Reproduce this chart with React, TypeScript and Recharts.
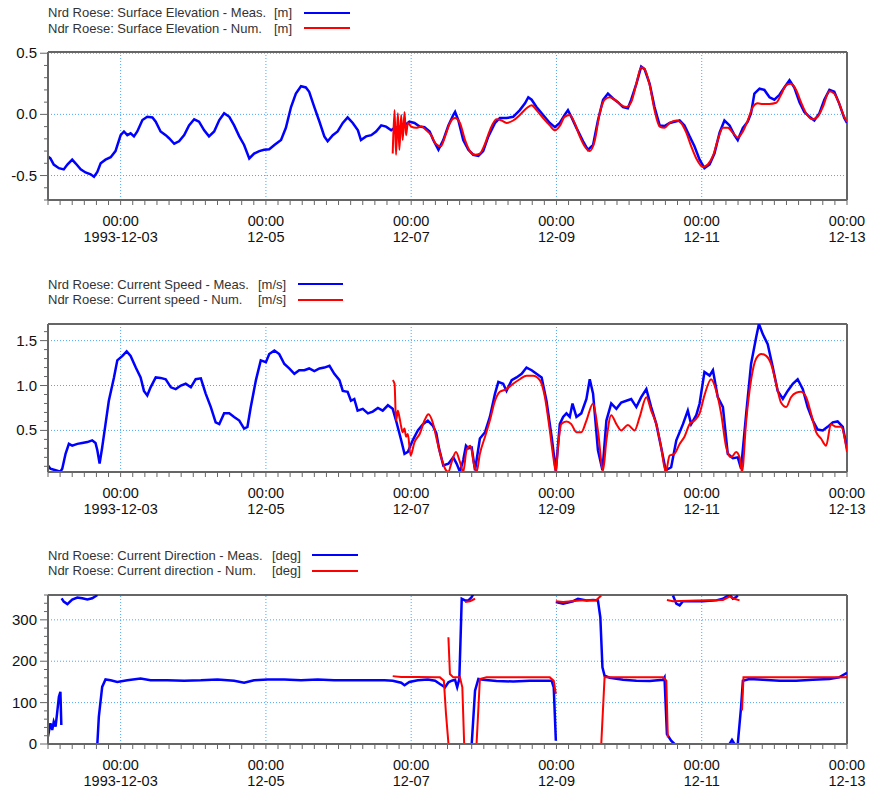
import React from 'react';
import { LineChart, Line, XAxis, YAxis, ReferenceLine } from 'recharts';

// time axis: hours after 1993-12-02 00:00
type Pt = [number, number];

const FONT = "'Liberation Sans', Arial, sans-serif";
const BLUE = '#0000ff';
const RED = '#ff0000';
const GRID = '#4da6ff';
const FRAME = '#666666';

const dayTicks = [24, 72, 120, 168, 216, 264];
const dayLabels = ['1993-12-03', '12-05', '12-07', '12-09', '12-11', '12-13'];
const hourTicks: number[] = [];
for (let h = 0; h <= 264; h += 4) hourTicks.push(h);

// --- surface elevation [m]
const elevMeas: Pt[] = [
  [0, -0.345], [0.8, -0.36], [1.9, -0.41], [3.6, -0.44], [5.2, -0.45], [6.4, -0.41], [8, -0.37], [9.1, -0.4],
  [10.8, -0.45], [12.4, -0.475], [14.1, -0.49], [15.2, -0.51], [16.3, -0.47], [17.4, -0.4], [19, -0.37], [20.7, -0.35],
  [22.3, -0.3], [24, -0.17], [25.1, -0.14], [26.2, -0.17], [27.3, -0.155], [28.4, -0.18], [29.5, -0.14], [31.2, -0.046],
  [32.8, -0.02], [34.5, -0.025], [35.6, -0.06], [37.2, -0.14], [38.9, -0.17], [40, -0.195], [41.7, -0.24], [43.3, -0.22],
  [45, -0.17], [46.6, -0.09], [48.3, -0.04], [49.9, -0.06], [51.6, -0.13], [53.2, -0.18], [54.9, -0.14], [56.6, -0.046],
  [58.2, 0.01], [59.9, -0.02], [61.5, -0.09], [63.2, -0.18], [64.8, -0.25], [66.5, -0.36], [68.1, -0.32], [69.8, -0.3],
  [71.4, -0.29], [73.1, -0.285], [74.8, -0.25], [77, -0.21], [78.6, -0.11], [80.3, 0.06], [81.9, 0.17], [83.6, 0.23],
  [85.2, 0.22], [86.3, 0.185], [88, 0.06], [89.7, -0.06], [91.3, -0.18], [92.4, -0.22], [94.1, -0.17], [95.7, -0.14],
  [97.4, -0.07], [99, -0.025], [100.7, -0.07], [102.4, -0.13], [103.4, -0.21], [105.1, -0.18], [106.8, -0.17], [108.4, -0.14],
  [110.1, -0.09], [111.7, -0.1], [113.4, -0.13], [114.5, -0.11], [116.1, -0.1], [117.8, -0.09], [119.4, -0.06], [121.1, -0.07],
  [122.8, -0.1], [124.4, -0.105], [126.1, -0.14], [127.3, -0.21], [129, -0.29], [130.6, -0.21], [132.3, -0.09], [133.9, -0.005],
  [134.5, 0.02], [135.6, -0.05], [137.2, -0.21], [138.9, -0.29], [140.5, -0.33], [142.2, -0.34], [143.8, -0.3], [145.5, -0.18],
  [147.7, -0.07], [149.3, -0.03], [151.5, -0.03], [153.7, -0.02], [155.9, 0.035], [157.6, 0.09], [158.7, 0.14], [159.8, 0.12],
  [161.4, 0.06], [163.6, -0.005], [165.8, -0.07], [167.5, -0.105], [169.1, -0.07], [170.7, -0.005], [171.8, 0.035], [172.9, -0.02],
  [174.6, -0.11], [176.8, -0.22], [178.4, -0.29], [180.1, -0.25], [181.7, -0.05], [183.4, 0.12], [185, 0.17], [186.7, 0.13],
  [188.3, 0.1], [190, 0.06], [191.6, 0.05], [192.7, 0.12], [194.4, 0.25], [196, 0.39], [197.1, 0.37], [198.8, 0.25],
  [200.4, 0.06], [202.1, -0.09], [203.7, -0.095], [205.4, -0.07], [207, -0.06], [208.7, -0.05], [210.3, -0.09], [212, -0.18],
  [213.6, -0.26], [215.3, -0.37], [216.9, -0.44], [218.6, -0.41], [220.2, -0.32], [221.9, -0.15], [223.5, -0.05], [225.2, -0.09],
  [226.8, -0.17], [227.9, -0.21], [229.6, -0.11], [231.2, -0.06], [232.3, 0.01], [233.4, 0.17], [235.1, 0.21], [236.7, 0.2],
  [238.4, 0.14], [240, 0.12], [241.7, 0.16], [243.3, 0.22], [245, 0.28], [246.6, 0.22], [248.3, 0.1], [249.9, 0.02],
  [251.6, -0.02], [253.2, -0.05], [254.9, 0.01], [256.5, 0.12], [258.2, 0.2], [259.8, 0.185], [261.4, 0.09], [263.1, -0.03],
  [264, -0.07],
];

const elevNum: Pt[] = [
  [113.9, -0.32], [114.5, 0.035], [115, -0.33], [115.6, 0.01], [116.1, -0.29], [116.7, -0.005], [117.2, -0.21], [117.8, 0.02],
  [118.3, -0.17], [118.9, -0.07], [120, -0.1], [121.6, -0.11], [123.3, -0.1], [125, -0.13], [126.6, -0.17], [128.1, -0.24],
  [129.8, -0.26], [131.2, -0.18], [132.8, -0.07], [134.5, -0.03], [136.1, -0.07], [137.8, -0.21], [139.4, -0.3], [141.1, -0.33],
  [142.7, -0.32], [144.4, -0.24], [146, -0.13], [148.2, -0.04], [149.9, -0.05], [151.5, -0.07], [153.7, -0.05], [155.9, -0.005],
  [158.1, 0.05], [159.8, 0.075], [161.4, 0.035], [163.6, -0.03], [165.8, -0.09], [167.5, -0.13], [169.1, -0.095], [170.7, -0.02],
  [172.4, -0.005], [174, -0.07], [175.7, -0.18], [177.3, -0.26], [179, -0.3], [180.6, -0.22], [182.3, 0.01], [183.9, 0.12],
  [185.6, 0.14], [187.2, 0.12], [188.9, 0.085], [191.1, 0.06], [192.7, 0.1], [194.4, 0.25], [196, 0.385], [197.1, 0.37],
  [198.8, 0.24], [200.4, 0.035], [202.1, -0.1], [203.7, -0.11], [205.4, -0.07], [207.6, -0.05], [209.2, -0.07], [210.9, -0.15],
  [212.5, -0.26], [214.2, -0.36], [216.4, -0.43], [218, -0.41], [219.7, -0.34], [221.3, -0.21], [223, -0.11], [224.6, -0.11],
  [226.3, -0.15], [227.9, -0.19], [229.6, -0.14], [231.2, -0.05], [232.9, 0.06], [234.5, 0.09], [236.2, 0.085], [238.4, 0.085],
  [240.6, 0.095], [242.2, 0.16], [243.9, 0.24], [245.5, 0.25], [247.2, 0.2], [248.8, 0.1], [250.5, 0.01], [252.7, -0.04],
  [254.3, -0.02], [256, 0.06], [258.2, 0.19], [259.8, 0.17], [261.4, 0.09], [263.1, -0.02], [264, -0.06],
];

// --- current speed [m/s]
const speedMeas: Pt[] = [
  [0, 0.11], [0.8, 0.074], [2.5, 0.056], [4.1, 0.04], [4.7, 0.074], [5.8, 0.24], [6.9, 0.35], [8, 0.33],
  [9.7, 0.35], [11.3, 0.36], [13, 0.37], [14.6, 0.39], [15.7, 0.36], [16.3, 0.28], [17.05, 0.13], [17.9, 0.31],
  [19, 0.57], [20.1, 0.83], [21.8, 1.09], [22.9, 1.28], [24.6, 1.33], [26, 1.38], [27.3, 1.33], [29, 1.2],
  [30.6, 1.09], [31.7, 0.94], [32.8, 0.89], [33.9, 0.98], [35.6, 1.09], [37.2, 1.085], [38.9, 1.07], [40.6, 0.98],
  [42.2, 0.96], [43.9, 1.0], [45.5, 1.02], [47.2, 0.98], [48.8, 1.07], [50.5, 1.08], [52.1, 0.91], [53.8, 0.76],
  [55.4, 0.59], [56.6, 0.57], [58.2, 0.69], [59.9, 0.69], [61.5, 0.65], [63.2, 0.61], [64.8, 0.52], [65.9, 0.54],
  [67, 0.76], [68.7, 1.06], [70.3, 1.28], [72, 1.26], [73.1, 1.35], [74.8, 1.39], [76.4, 1.35], [78.1, 1.24],
  [79.7, 1.19], [81.4, 1.13], [83, 1.17], [84.7, 1.17], [86.3, 1.19], [88, 1.16], [89.7, 1.19], [91.3, 1.2],
  [93, 1.22], [94.6, 1.13], [96.3, 1.06], [97.4, 0.94], [99, 0.93], [100.1, 0.83], [101.2, 0.85], [102.3, 0.72],
  [104, 0.74], [105.7, 0.69], [107.3, 0.71], [109, 0.75], [110.6, 0.72], [112.3, 0.78], [113.9, 0.74], [115, 0.61],
  [116.7, 0.39], [117.8, 0.24], [118.9, 0.26], [120.5, 0.39], [122.2, 0.5], [123.9, 0.57], [125.5, 0.61], [127.2, 0.55],
  [128.3, 0.47], [129.2, 0.3], [130.6, 0.11], [132.3, 0.13], [133.9, 0.2], [135, 0.13], [136.1, 0.04], [137.2, 0.17],
  [138.1, 0.33], [138.9, 0.3], [140, 0.31], [141.1, 0.056], [142.7, 0.41], [144.4, 0.48], [146, 0.65], [147.7, 0.91],
  [148.8, 1.04], [150.4, 1.02], [151.5, 0.94], [153.2, 1.06], [154.8, 1.09], [156.5, 1.13], [158.1, 1.2], [159.8, 1.17],
  [161.4, 1.13], [163.1, 1.09], [164.7, 0.83], [166.4, 0.43], [167.8, 0.05], [169.1, 0.57], [170.2, 0.65], [171.3, 0.69],
  [172.4, 0.65], [173.3, 0.8], [174.6, 0.65], [176.2, 0.69], [177.9, 0.85], [179, 1.07], [180.1, 0.91], [181.7, 0.28],
  [183.2, 0.056], [184.5, 0.61], [186.1, 0.8], [187.8, 0.74], [189.4, 0.81], [191.1, 0.83], [192.7, 0.85], [194.4, 0.76],
  [196, 0.87], [197.7, 0.96], [199.3, 0.76], [201, 0.57], [202.6, 0.31], [204.1, 0.056], [205.9, 0.09], [207.6, 0.39],
  [209.8, 0.57], [211.4, 0.72], [212.5, 0.57], [214.2, 0.67], [215.3, 0.8], [216.9, 1.15], [218.6, 1.11], [219.7, 1.17],
  [221.3, 0.87], [223, 0.76], [224.6, 0.24], [226.3, 0.19], [227.9, 0.2], [229, 0.074], [230.7, 0.69], [232.3, 1.24],
  [234, 1.54], [234.9, 1.685], [236.2, 1.57], [237.8, 1.46], [239.5, 1.2], [241.1, 0.94], [242.8, 0.85], [244.4, 0.94],
  [246.1, 1.02], [247.7, 1.07], [249.4, 0.96], [251, 0.76], [252.7, 0.61], [254.3, 0.51], [256, 0.5], [257.6, 0.54],
  [259.3, 0.59], [260.9, 0.6], [262.6, 0.54], [264, 0.3],
];

const speedNum: Pt[] = [
  [113.9, 1.06], [114.5, 1.02], [115, 0.61], [115.6, 0.72], [116.1, 0.65], [116.7, 0.54], [117.2, 0.48], [117.8, 0.52],
  [118.3, 0.43], [118.9, 0.46], [119.8, 0.22], [121.1, 0.37], [122.8, 0.46], [124.4, 0.61], [125.7, 0.68], [127.2, 0.58],
  [128.5, 0.39], [129.6, 0.24], [131.2, 0.074], [132.3, 0.04], [133.4, 0.15], [134.8, 0.26], [136.1, 0.15], [137.2, 0.04],
  [138.3, 0.28], [139.6, 0.33], [140.7, 0.13], [141.6, 0.04], [142.7, 0.24], [144.4, 0.43], [146, 0.61], [147.7, 0.83],
  [149.3, 0.93], [151.5, 0.96], [153.7, 1.02], [155.9, 1.07], [158.1, 1.11], [160.3, 1.11], [162.5, 1.06], [164.2, 0.87],
  [165.8, 0.5], [166.9, 0.22], [167.8, 0.04], [168.5, 0.31], [169.6, 0.57], [171.3, 0.6], [172.9, 0.57], [174.6, 0.48],
  [176.2, 0.48], [177.9, 0.61], [180.1, 0.8], [181.7, 0.5], [183.4, 0.056], [184.5, 0.39], [186.1, 0.67], [187.8, 0.57],
  [189.4, 0.5], [191.6, 0.56], [193.8, 0.5], [195.5, 0.65], [197.7, 0.87], [199.3, 0.72], [201, 0.57], [202.6, 0.31],
  [204.1, 0.04], [205.4, 0.22], [207, 0.24], [208.7, 0.35], [210.3, 0.43], [212, 0.57], [213.6, 0.61], [215.3, 0.69],
  [216.9, 0.89], [219.1, 1.07], [220.8, 0.94], [222.4, 0.69], [224.1, 0.31], [225.7, 0.2], [227.4, 0.26], [228.5, 0.2],
  [229.3, 0.04], [230.7, 0.61], [232.3, 1.06], [234, 1.3], [235.7, 1.35], [237.3, 1.33], [238.9, 1.24], [240.6, 1.02],
  [242.2, 0.81], [243.9, 0.76], [245.5, 0.87], [247.2, 0.92], [248.8, 0.93], [250.5, 0.87], [252.1, 0.69], [253.8, 0.48],
  [255.4, 0.41], [257.1, 0.33], [258.7, 0.57], [260.4, 0.54], [262, 0.54], [264, 0.26],
];

// --- current direction [deg], pieces split where the angle wraps 0/360
const dirMeas: Pt[][] = [
  [[0, 18], [0.8, 50], [1.4, 34], [1.9, 54], [2.5, 42], [3, 74], [3.6, 114], [4.1, 126], [4.4, 46]],
  [[4.5, 352], [5.2, 344], [6.4, 338], [8, 349], [9.7, 354], [11.3, 352], [13, 349], [14.6, 352], [15.7, 357], [16.3, 360]],
  [
    [16.3, 0], [16.8, 66], [17.9, 138], [19, 156], [20.7, 154], [22.9, 150], [26.2, 154], [30.6, 158], [33.9, 154],
    [39.4, 154], [45, 153], [50.5, 154], [56, 156], [61.5, 153], [64.8, 148], [68.1, 154], [72.6, 156], [78.1, 156],
    [83.6, 154], [89.1, 156], [94.6, 154], [100.1, 154], [105.7, 154], [111.2, 154], [113.9, 153], [116.7, 148],
    [117.8, 142], [119.4, 150], [122.2, 154], [125.5, 156], [127.9, 153], [129.5, 145], [131.2, 137], [132.3, 149],
    [133.4, 153], [134.5, 155], [135.2, 137], [135.9, 157], [136.3, 250], [136.7, 351], [137.8, 347], [138.9, 347],
    [140, 355], [140.5, 362],
  ],
  [[140, 0], [141.1, 129], [142.2, 157], [143.8, 155], [148.2, 152], [153.7, 151], [159.2, 153], [163.6, 153], [166.4, 153], [167.1, 137], [167.8, 8]],
  [
    [167.8, 343], [170.2, 339], [173.5, 345], [175.1, 351], [177.9, 347], [180.1, 348], [181.7, 347], [182.5, 306],
    [183.2, 185], [183.9, 165], [185.6, 160], [190, 155], [194.4, 153], [198.8, 152], [203.2, 155], [203.7, 161],
    [204.5, 24], [205.9, 8], [207, 0],
  ],
  [[206.5, 359], [207.6, 339], [208.7, 335], [209.8, 345], [212, 345], [216.4, 345], [220.8, 347], [223, 351], [225.2, 361], [226.3, 351], [227.4, 355], [227.9, 359]],
  [[225.2, 0], [226, 10], [226.8, 0]],
  [[227.9, 0], [229, 89], [229.6, 153], [231.8, 157], [236.2, 155], [241.7, 153], [247.2, 153], [252.7, 155], [258.2, 157], [261.4, 161], [264, 172]],
];

const dirNum: Pt[][] = [
  [[113.9, 164], [116.7, 162], [122.2, 162], [127.9, 161], [129.5, 161], [130.8, 153], [131.5, 73], [132.3, 2]],
  [[132.3, 258], [132.8, 169], [133.9, 161], [136.1, 161], [136.9, 137], [137.5, 2]],
  [[137.8, 343], [139.4, 345], [141.1, 351]],
  [[141.6, 0], [142.7, 157], [144.9, 161], [153.7, 161], [159.2, 161], [165.8, 161], [167.1, 153], [167.8, 121]],
  [[167.8, 345], [170.2, 343], [175.7, 347], [181.2, 348], [182.8, 359]],
  [[182.8, 0], [183.9, 161], [192.2, 161], [203.2, 161], [204.3, 153], [204.8, 16]],
  [[204.5, 348], [206.5, 345], [214.2, 347], [223, 348], [225.2, 356], [226.8, 351], [228.5, 347]],
  [[229.3, 81], [229.8, 161], [236.2, 161], [247.2, 161], [258.2, 161], [264, 161]],
];

const elevTicks = [-0.7, -0.6, -0.5, -0.4, -0.3, -0.2, -0.1, 0, 0.1, 0.2, 0.3, 0.4, 0.5];
const speedTicks = [0.1, 0.2, 0.3, 0.4, 0.5, 0.6, 0.7, 0.8, 0.9, 1.0, 1.1, 1.2, 1.3, 1.4, 1.5, 1.6];
const dirTicks = [0, 20, 40, 60, 80, 100, 120, 140, 160, 180, 200, 220, 240, 260, 280, 300, 320, 340, 360];

const toRows = (seg: Pt[]) => seg.map(([t, v]) => ({ t, v }));

const XTick = (props: any) => {
  const { x, y, payload } = props;
  const idx = dayTicks.indexOf(payload.value);
  return (
    <g>
      <line x1={x} x2={x} y1={y} y2={y + 5} stroke={FRAME} strokeWidth={1} />
      {idx >= 0 && (
        <>
          <text x={x} y={y + 25.5} textAnchor="middle" fontSize={14.5} fill="#111" fontFamily={FONT}>
            00:00
          </text>
          <text x={x} y={y + 42} textAnchor="middle" fontSize={14.5} fill="#111" fontFamily={FONT}>
            {dayLabels[idx]}
          </text>
        </>
      )}
    </g>
  );
};

const makeYTick = (majors: number[], fmt: (v: number) => string) => (props: any) => {
  const { x, y, payload } = props;
  const major = majors.some((m) => Math.abs(m - payload.value) < 1e-6);
  return (
    <g>
      <line x1={x - (major ? 8 : 4)} x2={x} y1={y} y2={y} stroke={FRAME} strokeWidth={1} />
      {major && (
        <text x={x - 11} y={y + 5} textAnchor="end" fontSize={15} fill="#111" fontFamily={FONT}>
          {fmt(payload.value)}
        </text>
      )}
    </g>
  );
};

interface PanelProps {
  top: number;
  height: number;
  domain: [number, number];
  yTicks: number[];
  yMajors: number[];
  fmt: (v: number) => string;
  meas: Pt[][];
  num: Pt[][];
  numType: 'linear' | 'monotone';
}

const Panel: React.FC<PanelProps> = ({ top, height, domain, yTicks, yMajors, fmt, meas, num, numType }) => {
  const YTick = makeYTick(yMajors, fmt);
  return (
    <div style={{ position: 'absolute', left: 0, top: top - 10 }}>
      <LineChart width={878} height={height + 60} margin={{ top: 10, right: 31, bottom: 0, left: 0 }}>
        <XAxis
          dataKey="t"
          type="number"
          domain={[0, 264]}
          ticks={hourTicks}
          interval={0}
          tick={<XTick />}
          tickLine={false}
          tickSize={0}
          tickMargin={0}
          height={50}
          axisLine={{ stroke: FRAME, strokeWidth: 2 }}
          allowDataOverflow
        />
        <YAxis
          type="number"
          domain={domain}
          ticks={yTicks}
          interval={0}
          tick={<YTick />}
          tickLine={false}
          tickSize={0}
          tickMargin={0}
          width={48}
          axisLine={{ stroke: FRAME, strokeWidth: 2 }}
          allowDataOverflow
        />
        {dayTicks.slice(0, -1).map((d) => (
          <ReferenceLine key={'gx' + d} x={d} stroke={GRID} strokeDasharray="1 2" />
        ))}
        {yMajors
          .filter((v) => v > domain[0] && v < domain[1])
          .map((v) => (
            <ReferenceLine key={'gy' + v} y={v} stroke={GRID} strokeDasharray="1 2" />
          ))}
        <ReferenceLine y={domain[1]} stroke={FRAME} strokeWidth={2} />
        <ReferenceLine x={264} stroke={FRAME} strokeWidth={2} />
        {meas.map((seg, i) => (
          <Line
            key={'m' + i}
            data={toRows(seg)}
            dataKey="v"
            type="linear"
            stroke={BLUE}
            strokeWidth={2.5}
            dot={false}
            activeDot={false}
            isAnimationActive={false}
          />
        ))}
        {num.map((seg, i) => (
          <Line
            key={'n' + i}
            data={toRows(seg)}
            dataKey="v"
            type={numType}
            stroke={RED}
            strokeWidth={2}
            dot={false}
            activeDot={false}
            isAnimationActive={false}
          />
        ))}
      </LineChart>
    </div>
  );
};

interface LegendProps {
  top: number;
  meas: string;
  num: string;
  unit: string;
  unitX: number;
  lineX: number;
  lineW: number;
}

const LegendBlock: React.FC<LegendProps> = ({ top, meas, num, unit, unitX, lineX, lineW }) => {
  const rows = [
    { label: meas, color: BLUE, y: top },
    { label: num, color: RED, y: top + 15.5 },
  ];
  const textStyle: React.CSSProperties = {
    position: 'absolute',
    fontSize: 13,
    lineHeight: '15px',
    color: '#333',
    fontFamily: FONT,
    whiteSpace: 'nowrap',
  };
  return (
    <>
      {rows.map((r) => (
        <React.Fragment key={r.label}>
          <div style={{ ...textStyle, left: 48, top: r.y - 7.5 }}>{r.label}</div>
          <div style={{ ...textStyle, left: unitX, top: r.y - 7.5 }}>{unit}</div>
          <div style={{ position: 'absolute', left: lineX, top: r.y - 1, width: lineW, height: 2, background: r.color }} />
        </React.Fragment>
      ))}
    </>
  );
};

const App: React.FC = () => {
  return (
    <div style={{ position: 'absolute', left: 0, top: 0, width: 878, height: 788, background: '#fff', fontFamily: FONT }}>
      <LegendBlock top={12.7} meas="Nrd Roese: Surface Elevation - Meas." num="Ndr Roese: Surface Elevation - Num." unit="[m]" unitX={274} lineX={304} lineW={46} />
      <Panel top={52} height={148} domain={[-0.7, 0.51]} yTicks={elevTicks} yMajors={[-0.5, 0, 0.5]} fmt={(v) => v.toFixed(1)} meas={[elevMeas]} num={[elevNum]} numType="monotone" />

      <LegendBlock top={284} meas="Nrd Roese: Current Speed - Meas." num="Ndr Roese: Current speed - Num." unit="[m/s]" unitX={258} lineX={298} lineW={45} />
      <Panel top={323.5} height={148} domain={[0.037, 1.685]} yTicks={speedTicks} yMajors={[0.5, 1.0, 1.5]} fmt={(v) => v.toFixed(1)} meas={[speedMeas]} num={[speedNum]} numType="monotone" />

      <LegendBlock top={555} meas="Nrd Roese: Current Direction - Meas." num="Ndr Roese: Current direction - Num." unit="[deg]" unitX={272} lineX={312} lineW={46} />
      <Panel top={595} height={149} domain={[0, 360]} yTicks={dirTicks} yMajors={[0, 100, 200, 300]} fmt={(v) => String(v)} meas={dirMeas} num={dirNum} numType="linear" />
    </div>
  );
};

export default App;
